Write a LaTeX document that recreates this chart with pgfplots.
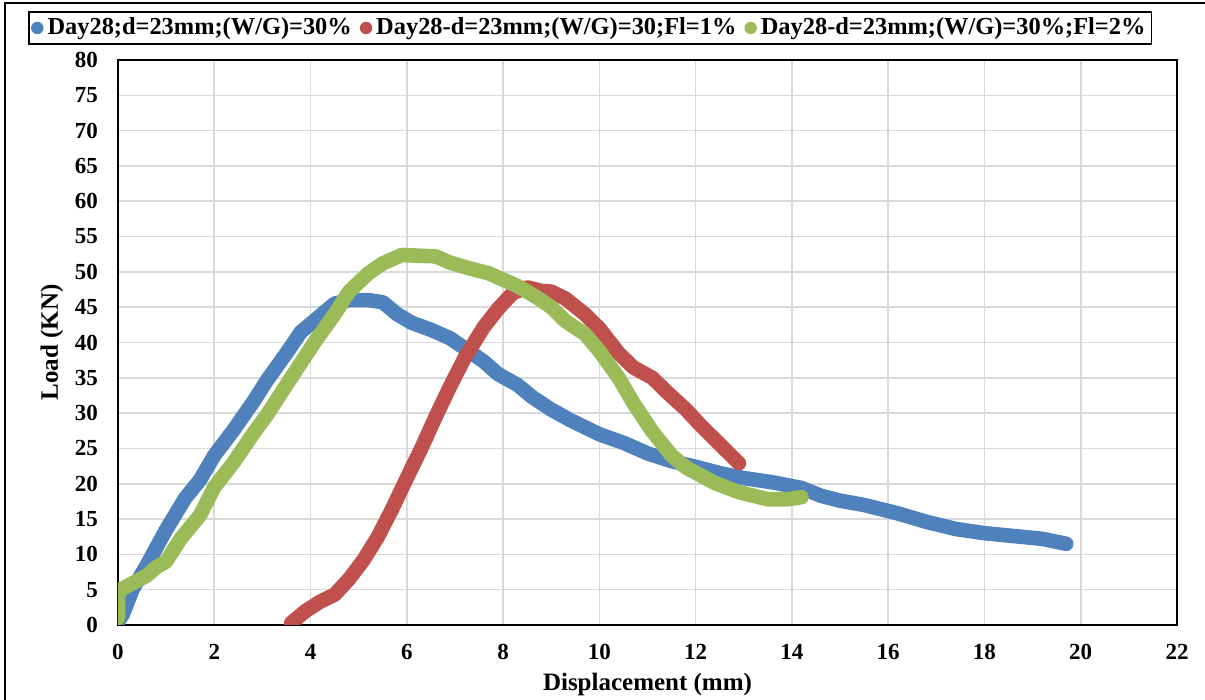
\documentclass[border=0pt]{standalone}
\usepackage{pgfplots}
\pgfplotsset{compat=1.18}
\usepackage{fontspec}
\setmainfont{Liberation Serif}
\definecolor{cblue}{HTML}{4F81BD}
\definecolor{cred}{HTML}{C0504D}
\definecolor{cgreen}{HTML}{9BBB59}
\definecolor{cgrid}{HTML}{D9D9D9}

\begin{document}
\begin{tikzpicture}
\begin{axis}[
    scale only axis,
    width=529.5pt, height=282.5pt,
    xmin=0, xmax=22, ymin=0, ymax=80,
    xtick={0,2,...,22}, ytick={0,5,...,80},
    grid=major,
    major grid style={cgrid, line width=0.8pt},
    axis line style={line width=1pt},
    tick style={draw=none},
    /pgf/number format/assume math mode=true,
    ticklabel style={font=\fontsize{11.5}{13}\selectfont\bfseries},
    yticklabel style={xshift=-6.5pt},
    xticklabel style={yshift=-6pt},
    xlabel={Displacement (mm)},
    ylabel={Load (KN)},
    label style={font=\fontsize{12.5}{14}\selectfont\bfseries},
    xlabel style={yshift=0pt},
    ylabel style={yshift=-1pt},
    legend columns=3,
    legend style={at={(0.446,1.027)}, anchor=south, draw=black, line width=0.8pt,
        font=\fontsize{12.2}{14}\selectfont\bfseries, inner sep=1pt,
        /tikz/every even column/.append style={column sep=2pt}},
    legend cell align=left,
    every axis plot/.append style={line width=7.3pt, line join=round, line cap=round},
]
\addplot[cblue, legend image code/.code={\path[fill=cblue, draw=none] (0.6em,0) circle (3.1pt);}] coordinates {
(0,0.5)(0.1,1.5)(0.3,5)(0.6,8.5)(1,13.5)(1.4,18)(1.7,20.5)(2,24)(2.4,27.6)(2.8,31.5)(3.1,34.7)(3.5,38.5)(3.8,41.5)(4.1,43.2)(4.5,45.5)(4.8,46)(5.2,46)(5.5,45.7)(5.8,44)(6.1,42.8)(6.5,41.8)(6.9,40.6)(7.2,39.2)(7.6,37.3)(7.9,35.5)(8.3,34)(8.6,32.3)(9,30.5)(9.4,29)(10,27)(10.5,25.8)(11,24.3)(11.5,23.2)(12,22.4)(12.5,21.5)(13,20.8)(13.6,20.2)(14.2,19.4)(14.6,18.3)(15,17.6)(15.5,17)(16.2,15.8)(16.8,14.6)(17.4,13.6)(18,13)(18.6,12.6)(19.2,12.2)(19.7,11.5)
};
\addlegendentry{Day28;d=23mm;(W/G)=30\%}
\addplot[cred, legend image code/.code={\path[fill=cred, draw=none] (0.6em,0) circle (3.1pt);}] coordinates {
(3.6,0.3)(3.9,2)(4.2,3.3)(4.5,4.3)(4.8,6.5)(5.1,9.2)(5.4,12.5)(5.7,16.5)(6,20.8)(6.3,25)(6.6,29.5)(6.9,33.8)(7.2,37.8)(7.6,42.2)(7.9,44.8)(8.2,47)(8.5,47.8)(8.8,47.3)(9,47.2)(9.3,46.2)(9.7,44)(10,42)(10.4,38.5)(10.7,36.5)(11.1,35)(11.4,33)(11.8,30.5)(12.1,28.3)(12.5,25.6)(12.9,22.9)
};
\addlegendentry{Day28-d=23mm;(W/G)=30;Fl=1\%}
\addplot[cgreen, legend image code/.code={\path[fill=cgreen, draw=none] (0.6em,0) circle (3.1pt);}] coordinates {
(0,1)(0,2.5)(0,4)(0.05,5)(0.3,5.9)(0.6,7)(0.8,8.2)(1,9)(1.3,12.2)(1.7,15.5)(2,19.5)(2.4,23)(2.8,27)(3.1,29.8)(3.5,34)(3.8,37.1)(4.1,40.2)(4.5,44)(4.8,47.2)(5.2,49.8)(5.5,51.2)(5.9,52.4)(6.2,52.3)(6.6,52.2)(6.9,51.3)(7.3,50.5)(7.7,49.8)(8.3,48)(8.7,46.4)(9,45)(9.3,43)(9.7,41.2)(10,38.8)(10.4,35)(10.7,31.5)(11.1,27.4)(11.5,24)(11.8,22.3)(12.4,20.1)(12.9,18.8)(13.5,17.8)(13.9,17.8)(14.2,18.1)
};
\addlegendentry{Day28-d=23mm;(W/G)=30\%;Fl=2\%}
\coordinate (O) at (rel axis cs:0,0);
\end{axis}
\draw[line width=1pt, shift={(O)}] (-56.5pt,-40pt) -- (-56.5pt,311pt) -- (545pt,311pt);
\pgfresetboundingbox
\path[use as bounding box, shift={(O)}] (-59pt,-37.5pt) rectangle (543.5pt,312.5pt);
\end{tikzpicture}
\end{document}
